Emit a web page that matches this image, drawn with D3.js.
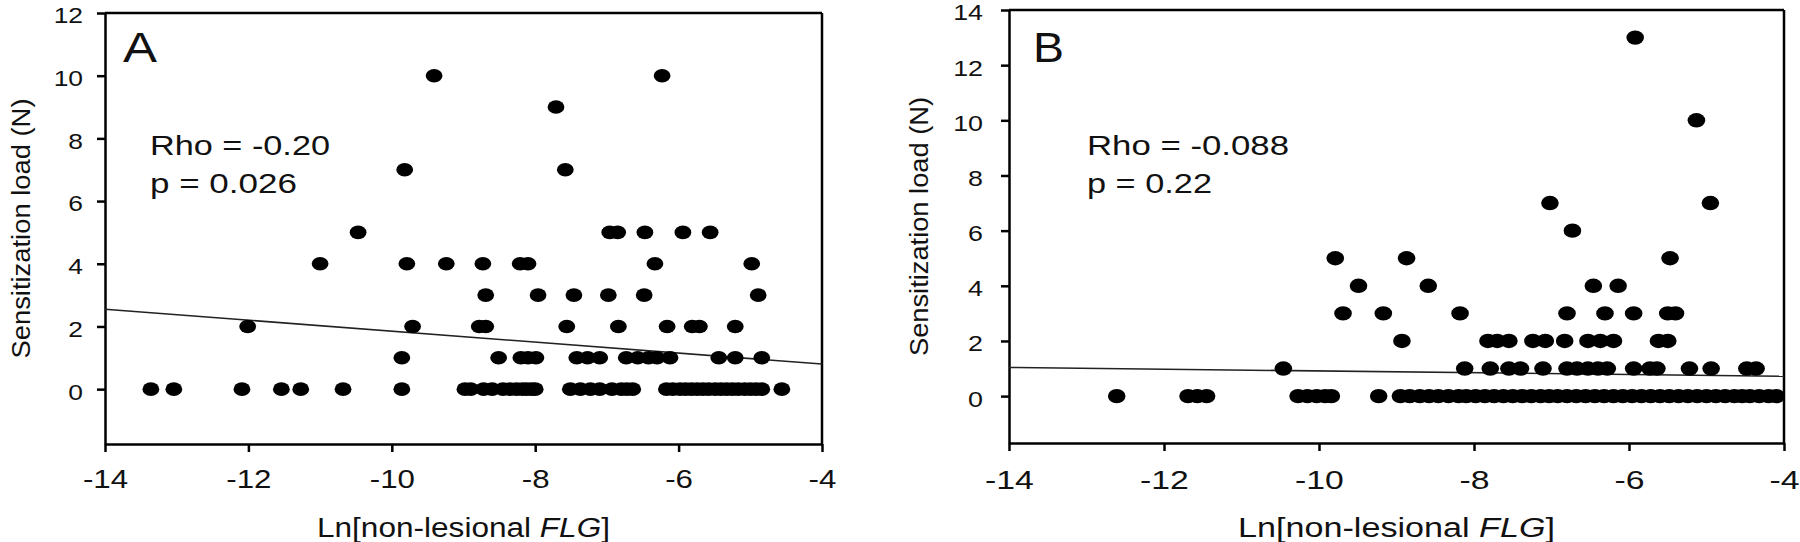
<!DOCTYPE html>
<html>
<head>
<meta charset="utf-8">
<script src="https://cdn.jsdelivr.net/npm/d3@7"></script>
<style>
  html, body { margin: 0; padding: 0; background: #fff; }
  svg { display: block; }
  text { font-family: "Liberation Sans", Arial, sans-serif; fill: #111; }
</style>
</head>
<body>
<svg id="chart" width="1800" height="542"></svg>
<script>
// ---------- DATA ----------
// Panel A: [Ln(non-lesional FLG), sensitization load]
const panelAPoints = [
  [-13.36,0],[-13.04,0],[-12.09,0],[-11.54,0],[-11.27,0],[-10.68,0],[-9.86,0],
  [-8.98,0],[-8.90,0],[-8.72,0],[-8.60,0],[-8.45,0],[-8.35,0],[-8.26,0],[-8.18,0],[-8.12,0],[-8.05,0],[-8.00,0],
  [-7.51,0],[-7.37,0],[-7.23,0],[-7.10,0],[-6.93,0],[-6.80,0],[-6.72,0],[-6.64,0],
  [-6.17,0],[-6.08,0],[-5.98,0],[-5.90,0],[-5.82,0],[-5.74,0],[-5.66,0],[-5.58,0],[-5.49,0],[-5.41,0],
  [-5.33,0],[-5.25,0],[-5.17,0],[-5.08,0],[-5.00,0],[-4.92,0],[-4.84,0],[-4.56,0],
  [-9.86,1],[-8.51,1],[-8.20,1],[-8.10,1],[-7.99,1],[-7.42,1],[-7.27,1],[-7.10,1],[-6.73,1],[-6.57,1],
  [-6.42,1],[-6.30,1],[-6.12,1],[-5.44,1],[-5.21,1],[-4.84,1],
  [-12.01,2],[-9.71,2],[-8.78,2],[-8.69,2],[-7.56,2],[-6.84,2],[-6.16,2],[-5.81,2],[-5.71,2],[-5.21,2],
  [-8.69,3],[-7.96,3],[-7.46,3],[-6.98,3],[-6.48,3],[-4.89,3],
  [-11.00,4],[-9.79,4],[-9.24,4],[-8.73,4],[-8.21,4],[-8.10,4],[-6.33,4],[-4.98,4],
  [-10.47,5],[-6.96,5],[-6.85,5],[-6.47,5],[-5.94,5],[-5.56,5],
  [-9.82,7],[-7.58,7],
  [-7.71,9],
  [-9.41,10],[-6.23,10]
];
// Panel B
const panelBPoints = [
  [-12.61,0],[-11.69,0],[-11.57,0],[-11.45,0],[-10.27,0],[-10.15,0],[-10.03,0],[-9.92,0],[-9.84,0],[-9.23,0],
  [-8.95,0],[-8.83,0],[-8.70,0],[-8.58,0],[-8.46,0],[-8.33,0],[-8.20,0],[-8.10,0],[-7.98,0],[-7.86,0],
  [-7.74,0],[-7.62,0],[-7.50,0],[-7.38,0],[-7.26,0],[-7.14,0],[-7.03,0],[-6.92,0],[-6.80,0],[-6.68,0],
  [-6.56,0],[-6.44,0],[-6.32,0],[-6.20,0],[-6.08,0],[-5.96,0],[-5.84,0],[-5.72,0],[-5.60,0],[-5.48,0],
  [-5.36,0],[-5.24,0],[-5.12,0],[-5.00,0],[-4.88,0],[-4.76,0],[-4.64,0],[-4.54,0],[-4.44,0],[-4.32,0],
  [-4.20,0],[-4.10,0],
  [-10.46,1],[-8.12,1],[-7.79,1],[-7.55,1],[-7.40,1],[-7.11,1],[-6.80,1],[-6.67,1],[-6.53,1],[-6.40,1],
  [-6.28,1],[-5.94,1],[-5.73,1],[-5.64,1],[-5.22,1],[-4.94,1],[-4.48,1],[-4.36,1],
  [-8.93,2],[-7.82,2],[-7.70,2],[-7.55,2],[-7.24,2],[-7.08,2],[-6.83,2],[-6.53,2],[-6.37,2],[-6.20,2],
  [-5.62,2],[-5.50,2],
  [-9.69,3],[-9.17,3],[-8.18,3],[-6.80,3],[-6.31,3],[-5.94,3],[-5.50,3],[-5.40,3],
  [-9.49,4],[-8.59,4],[-6.46,4],[-6.14,4],
  [-9.79,5],[-8.87,5],[-5.47,5],
  [-6.73,6],
  [-7.02,7],[-4.95,7],
  [-5.13,10],
  [-5.92,13]
];
// Regression line endpoints [x, y]
const panelAFit = [[-14, 2.55], [-4, 0.80]];
const panelBFit = [[-14, 1.04], [-4, 0.72]];

const xTicks = [-14, -12, -10, -8, -6, -4];
const panelAYTicks = [0, 2, 4, 6, 8, 10, 12];
const panelBYTicks = [0, 2, 4, 6, 8, 10, 12, 14];
const panelLabels = ["A", "B"];
const rhoTexts = ["Rho = -0.20", "Rho = -0.088"];
const pTexts = ["p = 0.026", "p = 0.22"];
const yTitle = "Sensitization load (N)";

// ---------- LAYOUT ----------
const svg = d3.select("#chart");
const fmt = d => String(d); // plain hyphen-minus as in the reference

const panels = [
  { pts: panelAPoints, fit: panelAFit, yTicks: panelAYTicks, yDomain: [-1.75, 12],
    left: 105, right: 822, top: 13, bottom: 444,
    rx: 8.4, ry: 6.8, yTickSx: 1.2, xTickSx: 1.25, yPad: 14, xPad: 18,
    yTitleX: 30, yTitleLen: 260, xTitleLen: 293,
    labelX: 123, labelLen: 34, rhoX: 150, rhoLen: 180, pLen: 147 },
  { pts: panelBPoints, fit: panelBFit, yTicks: panelBYTicks, yDomain: [-1.7, 14],
    left: 1009, right: 1784, top: 10, bottom: 443,
    rx: 8.8, ry: 7.2, yTickSx: 1.22, xTickSx: 1.35, yPad: 18, xPad: 20,
    yTitleX: 928, yTitleLen: 259, xTitleLen: 317,
    labelX: 1033, labelLen: 31, rhoX: 1087, rhoLen: 202, pLen: 125 }
];

function stretch(sel, sx) {
  sel.selectAll(".tick text").each(function () {
    const t = d3.select(this);
    const x = +t.attr("x") || 0;
    t.attr("x", 0).attr("transform", `translate(${x},0) scale(${sx},1)`);
  });
}

panels.forEach((p, i) => {
  const x = d3.scaleLinear().domain([-14, -4]).range([p.left, p.right]);
  const y = d3.scaleLinear().domain(p.yDomain).range([p.bottom, p.top]);
  const g = svg.append("g");

  // frame top & right
  g.append("line").attr("x1", p.left).attr("x2", p.right).attr("y1", p.top).attr("y2", p.top)
    .attr("stroke", "#000").attr("stroke-width", 2.5);
  g.append("line").attr("x1", p.right).attr("x2", p.right).attr("y1", p.top).attr("y2", p.bottom)
    .attr("stroke", "#000").attr("stroke-width", 2.5);

  // axes
  const ax = g.append("g").attr("transform", `translate(0,${p.bottom})`)
    .call(d3.axisBottom(x).tickValues(xTicks).tickFormat(fmt)
      .tickSize(8).tickSizeOuter(0).tickPadding(p.xPad));
  ax.selectAll("path, line").attr("stroke", "#000").attr("stroke-width", 2.5);
  ax.selectAll("text").attr("font-size", 25).attr("font-family", "Liberation Sans, Arial, sans-serif").attr("fill", "#111");
  stretch(ax, p.xTickSx);

  const ay = g.append("g").attr("transform", `translate(${p.left},0)`)
    .call(d3.axisLeft(y).tickValues(p.yTicks).tickFormat(fmt)
      .tickSize(8).tickSizeOuter(0).tickPadding(p.yPad));
  ay.selectAll("path, line").attr("stroke", "#000").attr("stroke-width", 2.5);
  ay.selectAll("text").attr("font-size", 22).attr("dy", "0.45em")
    .attr("font-family", "Liberation Sans, Arial, sans-serif").attr("fill", "#111");
  stretch(ay, p.yTickSx);

  // regression line
  g.append("line")
    .attr("x1", x(p.fit[0][0])).attr("y1", y(p.fit[0][1]))
    .attr("x2", x(p.fit[1][0])).attr("y2", y(p.fit[1][1]))
    .attr("stroke", "#222").attr("stroke-width", 1.6);

  // points
  g.append("g").selectAll("ellipse").data(p.pts).join("ellipse")
    .attr("cx", d => x(d[0])).attr("cy", d => y(d[1]))
    .attr("rx", p.rx).attr("ry", p.ry).attr("fill", "#000");

  // panel label
  g.append("text").attr("x", p.labelX).attr("y", 62).attr("font-size", 42)
    .attr("textLength", p.labelLen).attr("lengthAdjust", "spacingAndGlyphs").text(panelLabels[i]);

  // stats
  g.append("text").attr("x", p.rhoX).attr("y", 155).attr("font-size", 28)
    .attr("textLength", p.rhoLen).attr("lengthAdjust", "spacingAndGlyphs").text(rhoTexts[i]);
  g.append("text").attr("x", p.rhoX).attr("y", 193).attr("font-size", 28)
    .attr("textLength", p.pLen).attr("lengthAdjust", "spacingAndGlyphs").text(pTexts[i]);

  // y title
  const cy = (p.top + p.bottom) / 2;
  g.append("text").attr("transform", `translate(${p.yTitleX},${cy}) rotate(-90)`)
    .attr("text-anchor", "middle").attr("font-size", 26)
    .attr("textLength", p.yTitleLen).attr("lengthAdjust", "spacingAndGlyphs").text(yTitle);

  // x title
  const xt = g.append("text").attr("x", (p.left + p.right) / 2 - p.xTitleLen / 2).attr("y", 537)
    .attr("font-size", 27).attr("textLength", p.xTitleLen).attr("lengthAdjust", "spacingAndGlyphs");
  xt.append("tspan").text("Ln[non-lesional ");
  xt.append("tspan").attr("font-style", "italic").text("FLG");
  xt.append("tspan").text("]");
});
</script>
</body>
</html>
